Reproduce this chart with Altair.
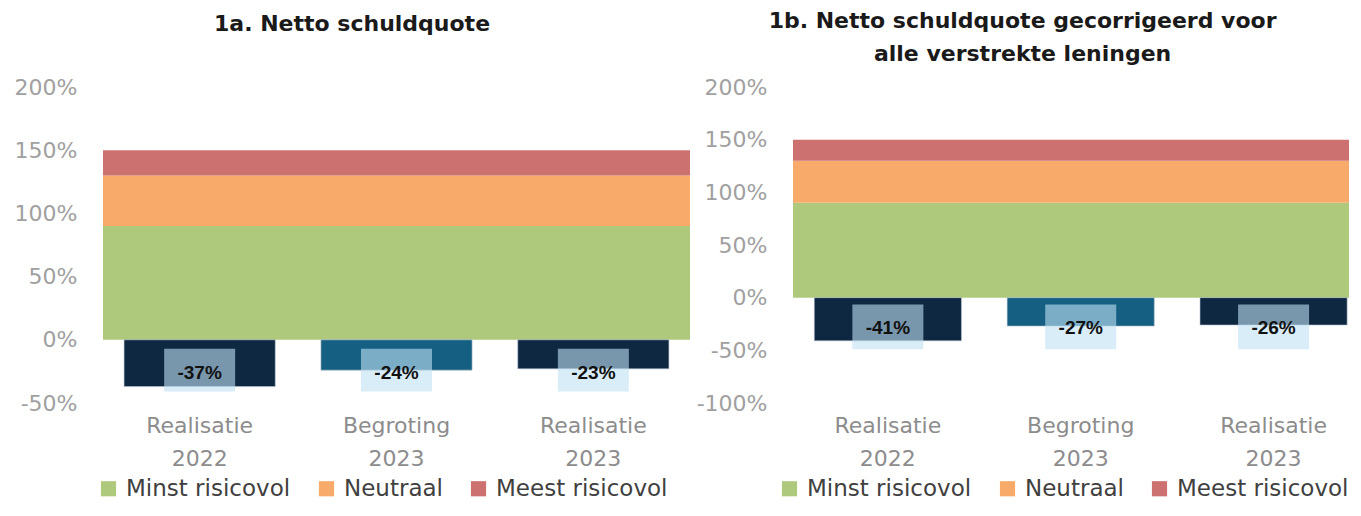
import altair as alt
import pandas as pd

categorieen = ["Realisatie 2022", "Begroting 2023", "Realisatie 2023"]
quote_1a = [-37, -24, -23]
quote_1b = [-41, -27, -26]
labels_1a = ["-37%", "-24%", "-23%"]
labels_1b = ["-41%", "-27%", "-26%"]
balk_kleuren = ["#0E2841", "#156082", "#0E2841"]

zones = ["Minst risicovol", "Neutraal", "Meest risicovol"]
zone_onder = [0, 90, 130]
zone_boven = [90, 130, 150]
zone_kleuren = ["#AFC97C", "#F7AA6A", "#CD7070"]

ticks_1a = [-50, 0, 50, 100, 150, 200]
ticks_1b = [-100, -50, 0, 50, 100, 150, 200]

FONT = "DejaVu Sans"


def panel(values, labels, title, domain, ticks, width, height, pin, pout, palign, box, text_y,
          legend_x, legend_y, title_offset):
    df = pd.DataFrame({"cat": categorieen, "waarde": values, "label": labels, "kleur": balk_kleuren})
    dz = pd.DataFrame({"zone": zones, "onder": zone_onder, "boven": zone_boven})

    yscale = alt.Scale(domain=domain, nice=False, zero=False)
    yaxis = alt.Axis(values=ticks, labelExpr="datum.value + '%'", grid=False, domain=False, ticks=False,
                     labelColor="#A0A0A0", labelFontSize=22, labelFont=FONT, labelPadding=26, title=None)
    xscale = alt.Scale(domain=categorieen, paddingInner=pin, paddingOuter=pout, align=palign)
    xaxis = alt.Axis(labelExpr="split(datum.label, ' ')", labelAngle=0, domain=False, ticks=False,
                     labelPadding=12, labelLineHeight=33, labelFontSize=22, labelFont=FONT,
                     labelColor="#8C8C8C", title=None)

    bands = alt.Chart(dz).mark_rect().encode(
        y=alt.Y("onder:Q", scale=yscale, axis=yaxis),
        y2="boven:Q",
        x=alt.value(0),
        x2=alt.value(width),
        color=alt.Color("zone:N", scale=alt.Scale(domain=zones, range=zone_kleuren),
                        legend=alt.Legend(orient="none", legendX=legend_x, legendY=legend_y,
                                          direction="horizontal", title=None, symbolType="square",
                                          symbolSize=230, symbolStrokeWidth=0, labelFontSize=23,
                                          labelFont=FONT, labelColor="#404040", columnPadding=24,
                                          labelOffset=6, labelLimit=400)),
    )
    bars = alt.Chart(df).mark_bar(stroke="#B8C4D0", strokeWidth=0.6).encode(
        x=alt.X("cat:N", scale=xscale, axis=xaxis),
        y=alt.Y("waarde:Q", scale=yscale, axis=alt.Axis(title=None)),
        fill=alt.Fill("kleur:N", scale=None),
    )
    boxes = alt.Chart(df).mark_bar(width=71, color="#C0E1F3", opacity=0.6).encode(
        x=alt.X("cat:N", scale=xscale),
        y=alt.datum(box[0]),
        y2=alt.datum(box[1]),
    )
    texts = alt.Chart(df).mark_text(font="Liberation Sans", fontSize=19, fontWeight="bold",
                                    color="#111111").encode(
        x=alt.X("cat:N", scale=xscale),
        y=alt.datum(text_y),
        text="label:N",
    )
    return alt.layer(bands, bars, boxes, texts).properties(
        width=width, height=height,
        title=alt.TitleParams(text=title, fontSize=22, font=FONT, fontWeight="bold", color="#1A1A1A",
                              anchor="middle", frame="bounds", lineHeight=33, offset=title_offset),
    )


left = panel(quote_1a, labels_1a, "1a. Netto schuldquote", [-50, 200], ticks_1a, 587, 316,
             0.232, 0.107, 0.5, (-7, -41), -26, -6, 390, 40)
right = panel(quote_1b, labels_1b, ["1b. Netto schuldquote gecorrigeerd voor", "alle verstrekte leningen"],
              [-100, 200], ticks_1b, 556, 316, 0.237, 0.06, 0.92, (-6.6, -49), -29, -15, 390, 10)

chart = alt.hconcat(left, right, spacing=6).resolve_scale(
    color="independent", x="independent", y="independent"
).configure_view(stroke=None).properties(padding={"left": 6, "top": 2, "right": 0, "bottom": 0})

chart.save("out.html", embed_options={"renderer": "svg", "actions": False})
